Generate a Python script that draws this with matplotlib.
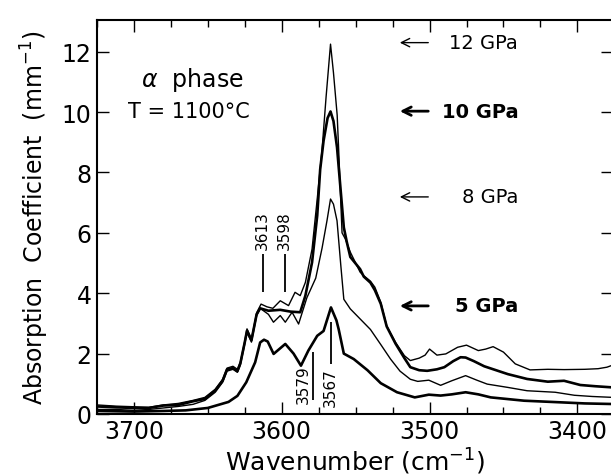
import matplotlib
matplotlib.use('Agg')
import matplotlib.pyplot as plt
from matplotlib.ticker import MultipleLocator

wn_12 = [3725, 3712, 3700, 3690, 3680, 3670, 3660, 3652, 3645, 3640, 3637, 3633,
         3630, 3628, 3625, 3623.5, 3620.5, 3617, 3614, 3610, 3606, 3601, 3595.4,
         3591, 3587.5, 3584, 3579.5, 3576, 3572.7, 3570, 3567, 3565, 3562.5,
         3561.5, 3559.2, 3557, 3553.6, 3547, 3544.5, 3540, 3537, 3533, 3529, 3523,
         3517, 3513, 3507, 3503, 3500, 3495, 3489, 3481, 3475, 3467, 3462, 3457,
         3450, 3442, 3432, 3420, 3409, 3395, 3386, 3380, 3376]
ab_12 = [0.30, 0.26, 0.24, 0.22, 0.30, 0.35, 0.45, 0.55, 0.82, 1.15, 1.52, 1.58,
         1.48, 1.72, 2.42, 2.82, 2.48, 3.35, 3.64, 3.55, 3.50, 3.75, 3.59,
         4.03, 3.92, 4.36, 5.46, 7.12, 8.77, 10.5, 12.25, 11.3, 9.90,
         8.77, 6.00, 5.80, 5.36, 4.70, 4.58, 4.40, 4.20, 3.70, 2.92, 2.37,
         1.93, 1.77, 1.85, 1.95, 2.15, 1.95, 1.99, 2.21, 2.28, 2.10, 2.15, 2.23,
         2.05, 1.66, 1.46, 1.48, 1.47, 1.48, 1.50, 1.55, 1.62]

wn_10 = [3725, 3712, 3700, 3690, 3680, 3670, 3660, 3652, 3645, 3640, 3637, 3633,
         3630, 3628, 3625, 3623.5, 3620.5, 3617, 3614.6, 3609, 3601, 3594, 3587.5,
         3584, 3579.5, 3576, 3574, 3571.7, 3569, 3567, 3565, 3562.6, 3560.3,
         3558, 3556, 3553.6, 3547, 3544.5, 3540, 3537, 3533, 3529, 3523, 3517,
         3513, 3507, 3501.6, 3495, 3490, 3484, 3479, 3475.6, 3470, 3463, 3455,
         3447, 3434, 3420, 3409, 3398, 3388, 3376]
ab_10 = [0.25, 0.22, 0.20, 0.20, 0.28, 0.30, 0.42, 0.50, 0.78, 1.10, 1.48, 1.52,
         1.42, 1.68, 2.38, 2.76, 2.44, 3.30, 3.50, 3.42, 3.45, 3.39, 3.37,
         3.92, 5.02, 6.57, 8.10, 9.05, 9.80, 10.02, 9.70, 8.83, 7.50,
         6.18, 5.70, 5.20, 4.80, 4.55, 4.35, 4.10, 3.65, 2.90, 2.33, 1.85,
         1.55, 1.45, 1.43, 1.48, 1.55, 1.75, 1.88, 1.87, 1.75, 1.58, 1.45,
         1.32, 1.16, 1.07, 1.10, 0.96, 0.92, 0.88]

wn_8 = [3725, 3712, 3700, 3690, 3680, 3670, 3660, 3652, 3645, 3640, 3637, 3633,
        3630, 3628, 3625, 3623.5, 3620.5, 3617, 3614.6, 3609, 3605.6, 3601, 3597.6,
        3593, 3588.6, 3583, 3577, 3572.7, 3569.4, 3567, 3565, 3562.6, 3560,
        3558, 3553.6, 3547, 3540, 3533, 3526.4, 3520, 3513, 3508, 3500.5, 3492.5,
        3485, 3475.6, 3468, 3461, 3447, 3434, 3415, 3402, 3390, 3376]
ab_8 = [0.15, 0.15, 0.12, 0.15, 0.20, 0.25, 0.32, 0.45, 0.72, 1.05, 1.42, 1.48,
        1.38, 1.62, 2.32, 2.70, 2.38, 3.25, 3.50, 3.30, 3.04, 3.26, 3.04,
        3.37, 2.98, 3.85, 4.50, 5.50, 6.40, 7.12, 6.95, 6.40, 4.90,
        3.80, 3.48, 3.15, 2.80, 2.30, 1.82, 1.42, 1.15, 1.08, 1.12, 0.95,
        1.10, 1.27, 1.12, 0.99, 0.88, 0.77, 0.72, 0.62, 0.58, 0.55]

wn_5 = [3725, 3700, 3680, 3665, 3650, 3636, 3630, 3624, 3618, 3614.6, 3612,
        3609.5, 3605.5, 3597.6, 3592, 3587, 3582, 3576, 3571.7, 3566.7, 3563,
        3561.5, 3558, 3551.3, 3542, 3533, 3522, 3510, 3500.5, 3492.5, 3485,
        3475.6, 3467, 3458.6, 3436, 3413, 3395, 3376]
ab_5 = [0.10, 0.08, 0.10, 0.12, 0.20, 0.40, 0.60, 1.05, 1.71, 2.37, 2.46,
        2.40, 1.99, 2.32, 2.00, 1.60, 2.10, 2.59, 2.75, 3.53, 3.10,
        2.81, 2.00, 1.82, 1.45, 1.02, 0.72, 0.55, 0.64, 0.61, 0.65,
        0.72, 0.65, 0.55, 0.44, 0.39, 0.35, 0.33]

pressures = ['12 GPa', '10 GPa', '8 GPa', '5 GPa']
label_y = [12.3, 10.03, 7.19, 3.58]
bold = [False, True, False, True]

peaks = [3613, 3598, 3579, 3567]

plt.rcParams['font.family'] = 'DejaVu Sans'
fig = plt.figure(figsize=(6.11, 4.77), dpi=100)
ax = fig.add_axes([0.158, 0.130, 0.845, 0.826])

ax.plot(wn_12, ab_12, color='black', lw=1.0)
ax.plot(wn_10, ab_10, color='black', lw=1.9)
ax.plot(wn_8, ab_8, color='black', lw=1.0)
ax.plot(wn_5, ab_5, color='black', lw=1.9)

ax.set_xlim(3725.3, 3376)
ax.set_ylim(0, 13.05)
ax.xaxis.set_major_locator(MultipleLocator(100))
ax.xaxis.set_minor_locator(MultipleLocator(25))
ax.yaxis.set_major_locator(MultipleLocator(2))
ax.tick_params(which='both', direction='in', top=True, right=True, width=1.0,
               labelsize=17)
ax.tick_params(which='major', length=8.5)
ax.tick_params(which='minor', length=5)
for s in ax.spines.values():
    s.set_linewidth(1.5)

ax.set_xlabel('Wavenumber (cm$^{-1}$)', fontsize=18, labelpad=2)
ax.set_ylabel('Absorption  Coefficient  (mm$^{-1}$)', fontsize=17, labelpad=8)

ax.text(3695, 11.1, r'$\alpha$  phase', fontsize=17, ha='left', va='center')
ax.text(3704, 10.05, 'T = 1100°C', fontsize=15, ha='left', va='center')

# pressure labels with arrows
for name, y, b in zip(pressures, label_y, bold):
    ax.annotate('', xy=(3522, y), xytext=(3499, y),
                arrowprops=dict(arrowstyle='->,head_length=0.6,head_width=0.3',
                                lw=2.0 if b else 1.0, color='black'))
    ax.text(3440, y, name, fontsize=14, ha='right', va='center',
            fontweight='bold' if b else 'normal')

# peak markers
ax.vlines(peaks[0], 4.05, 5.3, color='black', lw=1.3)
ax.vlines(peaks[1], 4.05, 5.3, color='black', lw=1.3)
ax.vlines(peaks[2], 0.45, 2.05, color='black', lw=1.3)
ax.vlines(peaks[3], 1.65, 3.05, color='black', lw=1.3)
ax.text(peaks[0], 5.45, str(peaks[0]), rotation=90, fontsize=11, ha='center', va='bottom')
ax.text(peaks[1], 5.45, str(peaks[1]), rotation=90, fontsize=11, ha='center', va='bottom')
ax.text(3585.5, 1.0, str(peaks[2]), rotation=90, fontsize=11, ha='center', va='center')
ax.text(peaks[3], 1.55, str(peaks[3]), rotation=90, fontsize=11, ha='center', va='top')

fig.savefig('out.png', dpi=100)
